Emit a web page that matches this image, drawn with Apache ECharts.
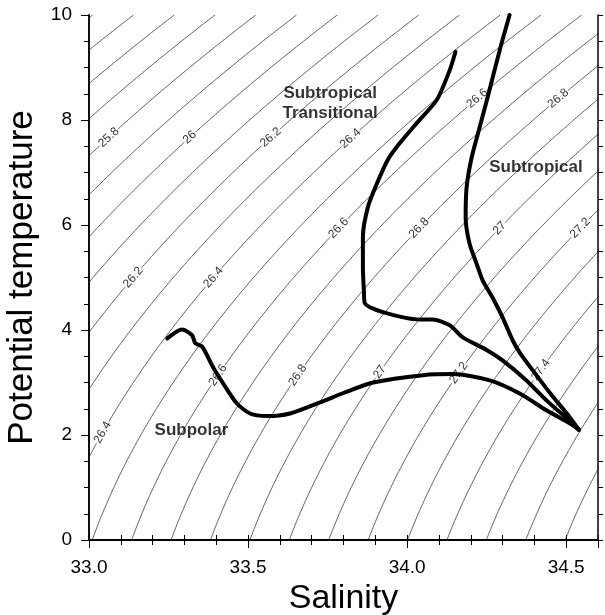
<!DOCTYPE html>
<html>
<head>
<meta charset="utf-8">
<script src="https://cdn.jsdelivr.net/npm/echarts@6/dist/echarts.min.js"></script>
<style>
html,body{margin:0;padding:0;background:#fff;}
#chart{width:605px;height:615px;}
</style>
</head>
<body>
<div id="chart"></div>
<script>
// ---- data ----
const xTickLabels = [33.0, 33.5, 34.0, 34.5];
const yTickLabels = [0, 2, 4, 6, 8, 10];
const sigmaLevels = [25.4, 25.5, 25.6, 25.7, 25.8, 25.9, 26.0, 26.1, 26.2, 26.3, 26.4, 26.5, 26.6,
                     26.7, 26.8, 26.9, 27.0, 27.1, 27.2, 27.3, 27.4, 27.5, 27.6, 27.7, 27.8, 27.9];
// contour labels: level and the temperature where the label sits
const labelLevels = [25.8, 26.0, 26.2, 26.4, 26.6, 26.8, 26.2, 26.4, 26.6, 26.8, 27.0, 27.2, 26.4, 26.6, 26.8, 27.0, 27.2, 27.4];
const labelTemps  = [7.67, 7.67, 7.67, 7.65, 8.41, 8.41, 5.0, 5.0, 5.94, 5.94, 5.94, 5.94, 2.05, 3.14, 3.14, 3.2, 3.18, 3.24];

// T-S curves
const transS = [34.152, 34.134, 34.093, 34.030, 33.977, 33.939, 33.905, 33.877, 33.861, 33.861, 33.864, 33.867,
                33.924, 34.040, 34.081, 34.134, 34.175, 34.250, 34.300, 34.375, 34.438, 34.520, 34.540];
const transT = [9.30, 8.95, 8.38, 7.94, 7.56, 7.24, 6.79, 6.35, 5.77, 5.19, 4.76, 4.51,
                4.34, 4.20, 4.20, 4.09, 3.86, 3.62, 3.42, 3.04, 2.66, 2.22, 2.10];
const subtropS = [34.322, 34.291, 34.259, 34.228, 34.203, 34.187, 34.184, 34.196, 34.218, 34.237, 34.270,
                  34.300, 34.332, 34.354, 34.395, 34.449, 34.511, 34.540];
const subtropT = [10.0, 9.33, 8.57, 7.86, 7.29, 6.72, 6.15, 5.65, 5.27, 4.95, 4.60,
                  4.24, 3.80, 3.57, 3.23, 2.80, 2.34, 2.10];
const subpolS = [33.246, 33.293, 33.324, 33.334, 33.356, 33.390, 33.422, 33.465, 33.506, 33.559, 33.632,
                 33.726, 33.800, 33.893, 34.050, 34.144, 34.260, 34.354, 34.438, 34.520, 34.540];
const subpolT = [3.84, 4.01, 3.90, 3.75, 3.68, 3.29, 2.98, 2.60, 2.41, 2.36, 2.41,
                 2.62, 2.80, 3.00, 3.14, 3.16, 3.04, 2.79, 2.47, 2.19, 2.10];

const regionNames = ['Subtropical\nTransitional', 'Subtropical', 'Subpolar'];
const regionS = [33.758, 34.405, 33.322];
const regionT = [8.32, 7.10, 2.09];

// ---- seawater density (UNESCO EOS-80, p = 0) ----
function sigmaTheta(S, T) {
  const rw = 999.842594 + 6.793952e-2*T - 9.095290e-3*T*T + 1.001685e-4*T*T*T
           - 1.120083e-6*T*T*T*T + 6.536332e-9*T*T*T*T*T;
  const A = 8.24493e-1 - 4.0899e-3*T + 7.6438e-5*T*T - 8.2467e-7*T*T*T + 5.3875e-9*T*T*T*T;
  const B = -5.72466e-3 + 1.0227e-4*T - 1.6546e-6*T*T;
  const C = 4.8314e-4;
  return rw + A*S + B*Math.pow(S, 1.5) + C*S*S - 1000;
}
function salinityFor(level, T) {
  let S = 34;
  for (let i = 0; i < 40; i++) {
    const f = sigmaTheta(S, T) - level;
    const d = (sigmaTheta(S + 1e-4, T) - sigmaTheta(S - 1e-4, T)) / 2e-4;
    S -= f / d;
  }
  return S;
}

const X0 = 33.0, X1 = 34.6, Y0 = 0, Y1 = 10;
const G = {left: 89, right: 7, top: 15, bottom: 75};
const pxPerS = (605 - G.left - G.right) / (X1 - X0);
const pxPerT = (615 - G.top - G.bottom) / (Y1 - Y0);

const temps = [];
for (let i = 0; i <= 200; i++) temps.push(i * 0.05);

const series = [];
sigmaLevels.forEach(lv => {
  series.push({
    type: 'line', xAxisIndex: 0, yAxisIndex: 0, silent: true, symbol: 'none', z: 1,
    lineStyle: {color: '#222', width: 0.7},
    data: temps.map(t => [salinityFor(lv, t), t])
  });
});

const labelData = labelLevels.map((lv, i) => {
  const t = labelTemps[i];
  const s = salinityFor(lv, t);
  const dsdt = (salinityFor(lv, t + 0.05) - salinityFor(lv, t - 0.05)) / 0.1;
  const ang = Math.atan2(pxPerT, dsdt * pxPerS) * 180 / Math.PI;
  return {value: [s, t], label: {rotate: ang, formatter: String(lv)}};
});
series.push({
  type: 'scatter', xAxisIndex: 0, yAxisIndex: 0, symbolSize: 0, silent: true, z: 3,
  label: {show: true, position: 'inside', color: '#000', fontSize: 12,
          fontFamily: 'Liberation Sans, Arial, sans-serif',
          backgroundColor: '#fff', padding: [0, 1]},
  data: labelData
});

function curve(S, T) {
  return {
    type: 'line', xAxisIndex: 0, yAxisIndex: 0, silent: true, symbol: 'none', z: 5,
    smooth: 0.25,
    lineStyle: {color: '#000', width: 4, join: 'round', cap: 'round'},
    data: S.map((s, i) => [s, T[i]])
  };
}
series.push(curve(transS, transT));
series.push(curve(subtropS, subtropT));
series.push(curve(subpolS, subpolT));

series.push({
  type: 'scatter', xAxisIndex: 0, yAxisIndex: 0, symbolSize: 0, silent: true, z: 6,
  label: {show: true, position: 'inside', color: '#000', fontSize: 17, fontWeight: 'bold',
          lineHeight: 20, fontFamily: 'Liberation Sans, Arial, sans-serif',
          formatter: p => p.name},
  data: regionNames.map((n, i) => ({name: n, value: [regionS[i], regionT[i]]}))
});

const axLine = {show: true, lineStyle: {color: '#000', width: 1.5}};
const tickStyle = {color: '#000', width: 1};
const font = 'Liberation Sans, Arial, sans-serif';
function isX(v) { return xTickLabels.some(x => Math.abs(x - v) < 1e-6); }
function isY(v) { return yTickLabels.some(y => Math.abs(y - v) < 1e-6); }

const option = {
  animation: false,
  backgroundColor: '#fff',
  grid: {left: G.left, right: G.right, top: G.top, bottom: G.bottom, show: false,
         containLabel: false, outerBoundsMode: 'none'},
  xAxis: [
    {type: 'value', position: 'bottom', min: X0, max: X1, interval: 0.1,
     axisLine: axLine, axisTick: {show: true, length: 5, lineStyle: tickStyle},
     axisLabel: {show: false}, splitLine: {show: false}},
    {type: 'value', position: 'bottom', min: X0, max: X1, interval: 0.5,
     axisLine: axLine, axisTick: {show: true, length: 8, lineStyle: tickStyle},
     axisLabel: {show: true, fontSize: 19, color: '#000', fontFamily: font, margin: 18,
                 formatter: v => isX(v) ? v.toFixed(1) : ''},
     splitLine: {show: false},
     name: 'Salinity', nameLocation: 'middle', nameGap: 40,
     nameTextStyle: {fontSize: 34, color: '#000', fontFamily: font}},
    {type: 'value', position: 'top', min: X0, max: X1, interval: 0.1,
     axisLine: axLine, axisTick: {show: true, length: 5, lineStyle: tickStyle},
     axisLabel: {show: false}, splitLine: {show: false}}
  ],
  yAxis: [
    {type: 'value', position: 'left', min: Y0, max: Y1, interval: 0.5,
     axisLine: axLine, axisTick: {show: true, length: 5, lineStyle: tickStyle},
     axisLabel: {show: false}, splitLine: {show: false}},
    {type: 'value', position: 'left', min: Y0, max: Y1, interval: 2,
     axisLine: axLine, axisTick: {show: true, length: 8, lineStyle: tickStyle},
     axisLabel: {show: true, fontSize: 19, color: '#000', fontFamily: font, margin: 17,
                 formatter: v => isY(v) ? String(v) : ''},
     splitLine: {show: false},
     name: 'Potential temperature', nameLocation: 'middle', nameGap: 39,
     nameTextStyle: {fontSize: 35, color: '#000', fontFamily: font}},
    {type: 'value', position: 'right', min: Y0, max: Y1, interval: 0.5,
     axisLine: axLine, axisTick: {show: true, length: 5, lineStyle: tickStyle},
     axisLabel: {show: false}, splitLine: {show: false}}
  ],
  series: series
};
const chart = echarts.init(document.getElementById('chart'), null, {renderer: 'canvas'});
chart.setOption(option);
</script>
</body>
</html>
